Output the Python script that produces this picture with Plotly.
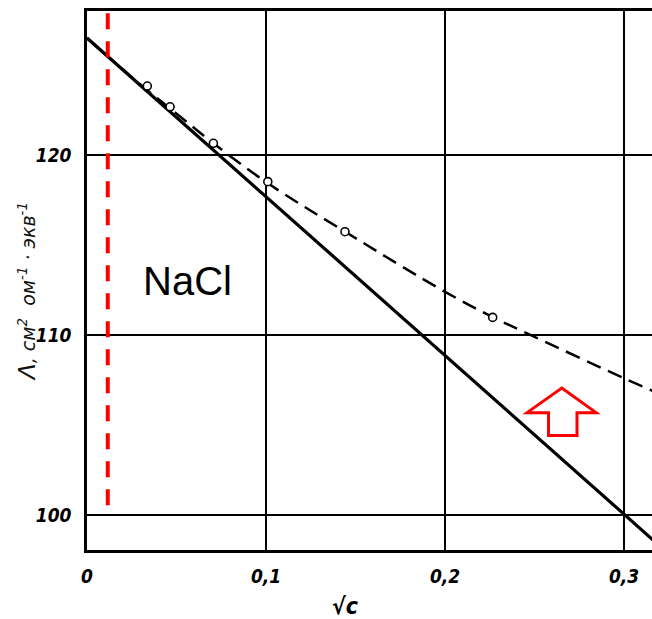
import plotly.graph_objects as go

# Data
pts_x = [0.0337, 0.0464, 0.0706, 0.1010, 0.1441, 0.2266]
pts_y = [123.83, 122.68, 120.65, 118.52, 115.74, 110.98]

dash_x = [0.0, 0.03, 0.05, 0.07, 0.10, 0.144, 0.20, 0.2266, 0.25, 0.30, 0.33]
dash_y = [126.5, 123.9, 122.3, 120.7, 118.5, 115.75, 112.4, 111.0, 109.9, 107.6, 106.3]

lim_x = [0.0, 0.33]
lim_y = [126.5, 97.4]

red_x = [0.0116, 0.0116]
red_y = [100.55, 128.2]

xtick_vals = [0, 0.1, 0.2, 0.3]
xtick_text = ["0", "0,1", "0,2", "0,3"]
ytick_vals = [100, 110, 120]
ytick_text = ["100", "110", "120"]

label = "NaCl"

FAM = "DejaVu Sans Condensed, DejaVu Sans"
tick_font = dict(family=FAM, size=19, color="black", style="italic", weight="bold")

fig = go.Figure()
fig.add_trace(go.Scatter(x=lim_x, y=lim_y, mode="lines",
                         line=dict(color="black", width=3.2), showlegend=False, hoverinfo="skip"))
fig.add_trace(go.Scatter(x=dash_x, y=dash_y, mode="lines",
                         line=dict(color="black", width=2.5, dash="15px,8px", shape="spline"),
                         showlegend=False, hoverinfo="skip"))
fig.add_trace(go.Scatter(x=pts_x, y=pts_y, mode="markers",
                         marker=dict(symbol="circle", size=8, color="white",
                                     line=dict(color="black", width=1.6)),
                         showlegend=False))
fig.add_trace(go.Scatter(x=red_x, y=red_y, mode="lines",
                         line=dict(color="#ff0000", width=4, dash="16px,12px"),
                         showlegend=False, hoverinfo="skip"))

# Red outlined up-arrow
ax = dict(tip=(0.2652, 107.06), lw=0.2458, rw=0.2844, wy=105.69,
          sl=0.2578, sr=0.2737, by=104.42)
path = (f"M {ax['tip'][0]} {ax['tip'][1]} L {ax['rw']} {ax['wy']} L {ax['sr']} {ax['wy']} "
        f"L {ax['sr']} {ax['by']} L {ax['sl']} {ax['by']} L {ax['sl']} {ax['wy']} "
        f"L {ax['lw']} {ax['wy']} Z")
fig.add_shape(type="path", path=path, xref="x", yref="y",
              line=dict(color="#ff0000", width=3), fillcolor="white")

fig.add_annotation(x=0.0561, y=113.0, xref="x", yref="y", text=label, showarrow=False,
                   font=dict(family="Liberation Sans, Arial", size=40, color="black"),
                   xanchor="center", yanchor="middle")

fig.add_annotation(x=(27 - 87) / 565, y=(550 - 292) / 539, xref="paper", yref="paper", textangle=-90,
                   text=("<span style='font-size:23px'>Λ</span>,&nbsp;см<sup>2</sup>&nbsp;&nbsp;ом<sup>-1</sup>"
                         "&nbsp;·&nbsp;экв<sup>-1</sup>"),
                   showarrow=False, xanchor="center", yanchor="middle",
                   font=dict(family="DejaVu Sans", size=19, color="#111", style="italic"))

fig.add_annotation(x=(345 - 87) / 565, y=-(606 - 550) / 539, xref="paper", yref="paper",
                   text="<b>√c</b>", showarrow=False, xanchor="center", yanchor="middle",
                   font=dict(family=FAM, size=23, color="black", style="italic"))

fig.update_xaxes(range=[0, 0.3156], tickvals=xtick_vals, ticktext=xtick_text,
                 showgrid=True, gridcolor="black", gridwidth=2,
                 showline=True, linecolor="black", linewidth=2.5, mirror=True,
                 ticks="", zeroline=False, tickfont=tick_font, ticklabelstandoff=7)
fig.update_yaxes(range=[98.06, 128.0], tickvals=ytick_vals, ticktext=ytick_text,
                 showgrid=True, gridcolor="black", gridwidth=2,
                 showline=True, linecolor="black", linewidth=2.5, mirror=False,
                 ticks="", zeroline=False, tickfont=tick_font, ticklabelstandoff=9)

fig.update_layout(width=652, height=619, margin=dict(l=87, r=0, t=11, b=69),
                  plot_bgcolor="white", paper_bgcolor="white")

fig.write_html("out.html")
